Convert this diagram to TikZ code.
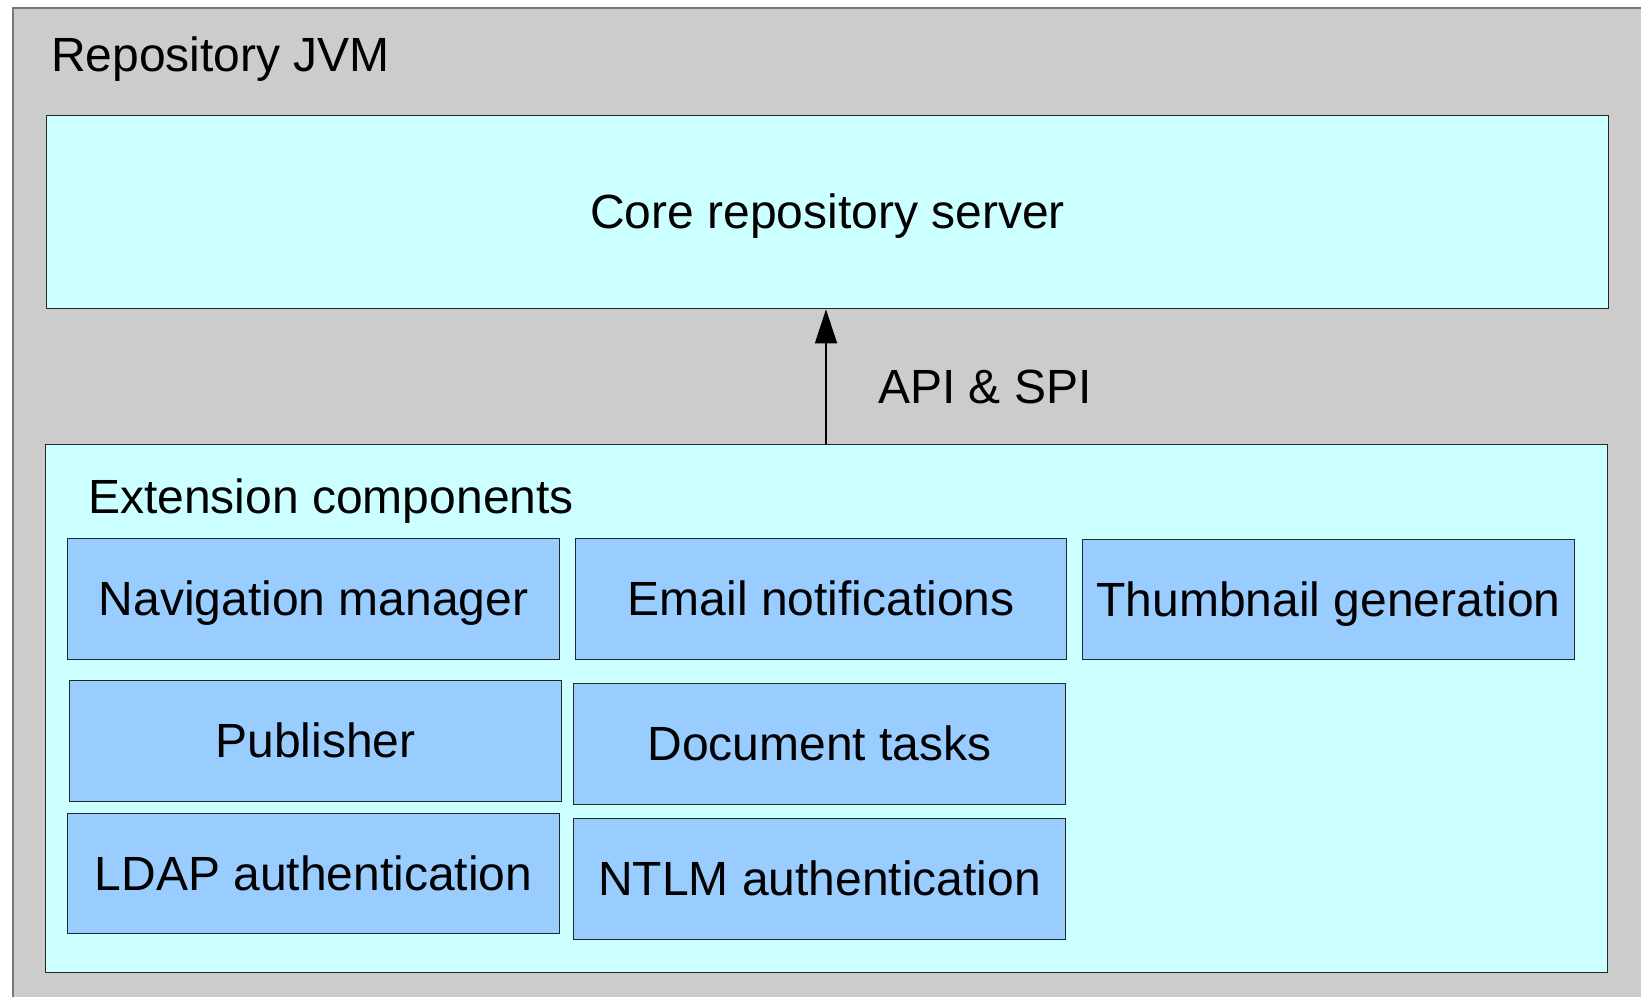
\documentclass[tikz,border=0pt]{standalone}
\usepackage{fontspec}
\setmainfont{Liberation Sans}
\usetikzlibrary{arrows.meta}
\definecolor{jvmgray}{HTML}{CCCCCC}
\definecolor{jvmedge}{HTML}{777777}
\definecolor{paleCyan}{HTML}{CCFFFF}
\definecolor{compBlue}{HTML}{99CCFF}
\tikzset{
  bigfont/.style={font=\fontsize{48}{56}\selectfont},
  % fixed line box (ascent/descent of the 48pt face) so labels centre alike
  linebox/.style={text height=43.4pt, text depth=10.2pt},
  panel/.style={draw=black!85, line width=1.3pt, fill=paleCyan, inner sep=0pt, anchor=north west},
  comp/.style={draw=black!85, line width=1.3pt, fill=compBlue, inner sep=0pt, anchor=north west,
               bigfont, linebox},
  title/.style={anchor=base west, inner sep=0pt, bigfont},
  link/.style={line width=1.3pt, -{Triangle[length=34pt,width=22pt]}}
}
\begin{document}
\begin{tikzpicture}[x=1pt,y=-1pt]
\useasboundingbox (0,0) rectangle (1641,996);
% JVM container (runs off the right and bottom edges)
\fill[jvmgray] (13,8) rectangle (1660,1010);
\draw[jvmedge, line width=2pt] (1660,8) -- (13,8) -- (13,1010);
\node[title] (jvmlabel) at (51,71) {Repository JVM};

% core server
\node[panel, minimum width=1562pt, minimum height=193pt] (core) at (46,115) {};
\node[bigfont, linebox] (corelabel) at (core.center) {Core repository server};

% extension panel
\node[panel, minimum width=1562pt, minimum height=528pt] (ext) at (45,444) {};
\node[title] (extlabel) at (88,513) {Extension components};

% components
\node[comp, minimum width=492pt, minimum height=121pt] (nav)   at (67,538)   {Navigation manager};
\node[comp, minimum width=491pt, minimum height=121pt] (email) at (575,538)  {Email notifications};
\node[comp, minimum width=492pt, minimum height=120pt] (thumb) at (1082,539) {Thumbnail generation};
\node[comp, minimum width=492pt, minimum height=121pt] (pub)   at (69,680)   {Publisher};
\node[comp, minimum width=492pt, minimum height=121pt] (doc)   at (573,683)  {Document tasks};
\node[comp, minimum width=492pt, minimum height=120pt] (ldap)  at (67,813)   {LDAP authentication};
\node[comp, minimum width=492pt, minimum height=121pt] (ntlm)  at (573,818)  {NTLM authentication};

% API link
\coordinate (apix) at (826,0);
\draw[link] (ext.north -| apix) -- (core.south -| apix);
\node[title] (apilabel) at (878,403) {API \& SPI};
\end{tikzpicture}
\end{document}
